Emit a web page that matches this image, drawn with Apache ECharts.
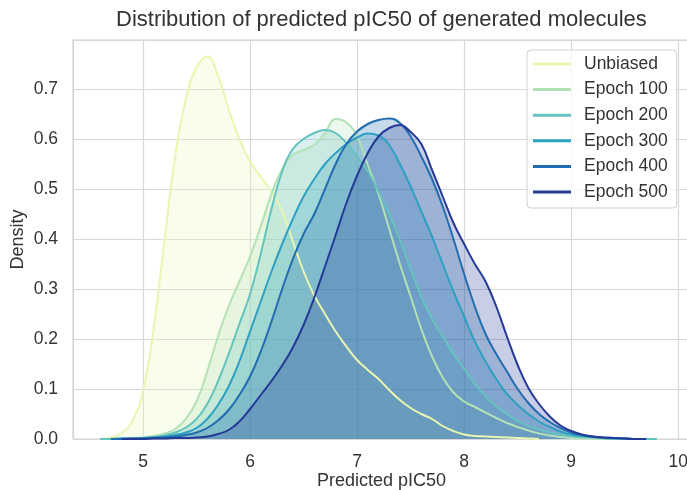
<!DOCTYPE html>
<html>
<head>
<meta charset="utf-8">
<script src="https://cdn.jsdelivr.net/npm/echarts@6/dist/echarts.min.js"></script>
<style>
  html, body { margin: 0; padding: 0; background: #ffffff; }
  #chart { width: 687px; height: 490px; }
</style>
</head>
<body>
<div id="chart"></div>
<script>
// KDE curves of predicted pIC50, sampled every 0.1 from 4.6 to 9.9 (null = outside the curve's support)
const pic50Grid = [];
for (let i = 0; i <= 53; i++) pic50Grid.push(+(4.6 + i * 0.1).toFixed(1));

const seriesNames = ['Unbiased', 'Epoch 100', 'Epoch 200', 'Epoch 300', 'Epoch 400', 'Epoch 500'];
const seriesColors = ['#e8f6b1', '#b2e1b6', '#64c3bf', '#2ca1c2', '#216daf', '#253a97'];

const densityUnbiased = [
  0.0, 0.003, 0.012, 0.036, 0.095, 0.222, 0.395, 0.565, 0.68, 0.743,
  0.765, 0.727, 0.66, 0.60, 0.555, 0.525, 0.495, 0.455, 0.395, 0.335,
  0.287, 0.25, 0.215, 0.185, 0.158, 0.138, 0.12, 0.098, 0.078, 0.062,
  0.05, 0.04, 0.026, 0.016, 0.009, 0.006, 0.005, 0.004, 0.003, 0.002,
  0.001, 0.0, null, null, null, null, null, null, null, null,
  null, null, null, null
];
const densityEpoch100 = [
  null, 0.0, 0.001, 0.002, 0.003, 0.006, 0.011, 0.02, 0.04, 0.075,
  0.135, 0.205, 0.265, 0.315, 0.365, 0.425, 0.49, 0.54, 0.568, 0.578,
  0.588, 0.612, 0.640, 0.633, 0.605, 0.548, 0.49, 0.42, 0.35, 0.285,
  0.22, 0.165, 0.123, 0.093, 0.075, 0.064, 0.053, 0.042, 0.032, 0.024,
  0.017, 0.011, 0.007, 0.004, 0.002, 0.001, 0.001, 0.0, 0.0, 0.0,
  null, null, null, null
];
const densityEpoch200 = [
  0.0, 0.0, 0.001, 0.001, 0.002, 0.004, 0.007, 0.013, 0.023, 0.04,
  0.07, 0.115, 0.17, 0.23, 0.29, 0.37, 0.46, 0.535, 0.58, 0.60,
  0.612, 0.618, 0.612, 0.592, 0.565, 0.535, 0.495, 0.45, 0.398, 0.34,
  0.285, 0.24, 0.205, 0.17, 0.14, 0.11, 0.085, 0.065, 0.05, 0.036,
  0.026, 0.019, 0.013, 0.009, 0.006, 0.004, 0.003, 0.002, 0.001, 0.001,
  0.0, 0.0, 0.0, null
];
const densityEpoch300 = [
  null, 0.0, 0.001, 0.001, 0.002, 0.003, 0.005, 0.008, 0.013, 0.022,
  0.04, 0.068, 0.105, 0.155, 0.215, 0.275, 0.335, 0.39, 0.44, 0.485,
  0.52, 0.55, 0.572, 0.59, 0.603, 0.611, 0.607, 0.588, 0.55, 0.505,
  0.455, 0.405, 0.35, 0.295, 0.245, 0.195, 0.155, 0.12, 0.09, 0.068,
  0.05, 0.035, 0.024, 0.015, 0.009, 0.006, 0.004, 0.002, 0.001, 0.001,
  0.0, 0.0, null, null
];
const densityEpoch400 = [
  null, 0.0, 0.0, 0.001, 0.001, 0.002, 0.003, 0.005, 0.008, 0.013,
  0.022, 0.037, 0.058, 0.088, 0.125, 0.175, 0.235, 0.30, 0.36, 0.41,
  0.45, 0.50, 0.55, 0.59, 0.615, 0.63, 0.638, 0.641, 0.632, 0.605,
  0.565, 0.52, 0.465, 0.40, 0.33, 0.265, 0.21, 0.17, 0.135, 0.10,
  0.072, 0.05, 0.034, 0.022, 0.013, 0.008, 0.005, 0.003, 0.002, 0.001,
  0.0, 0.0, null, null
];
const densityEpoch500 = [
  null, null, 0.0, 0.0, 0.0, 0.001, 0.001, 0.002, 0.002, 0.003,
  0.005, 0.01, 0.018, 0.035, 0.06, 0.088, 0.116, 0.147, 0.183, 0.228,
  0.283, 0.345, 0.408, 0.472, 0.527, 0.572, 0.605, 0.622, 0.628, 0.614,
  0.59, 0.538, 0.485, 0.432, 0.39, 0.35, 0.315, 0.265, 0.205, 0.148,
  0.102, 0.07, 0.045, 0.027, 0.016, 0.009, 0.005, 0.003, 0.002, 0.001,
  0.0, 0.0, null, null
];

const densities = [densityUnbiased, densityEpoch100, densityEpoch200,
                   densityEpoch300, densityEpoch400, densityEpoch500];

const FONT = '"Liberation Sans", Arial, sans-serif';
const TEXT = '#333333';
const GRIDLINE = '#d8d8d8';

const chart = echarts.init(document.getElementById('chart'), null, { renderer: 'canvas' });

const series = seriesNames.map((name, k) => ({
  name,
  type: 'line',
  data: pic50Grid.map((x, i) => [x, densities[k][i]]),
  smooth: 0.45,
  showSymbol: false,
  symbol: 'none',
  connectNulls: false,
  color: seriesColors[k],
  itemStyle: { color: seriesColors[k] },
  lineStyle: { color: seriesColors[k], width: 2 },
  areaStyle: { color: seriesColors[k], opacity: 0.25 },
  emphasis: { disabled: true },
  animation: false
}));

chart.setOption({
  animation: false,
  backgroundColor: '#ffffff',
  title: {
    text: 'Distribution of predicted pIC50 of generated molecules',
    left: 116,
    top: 9,
    padding: 0,
    textStyle: { fontFamily: FONT, fontSize: 22, fontWeight: 'normal', color: TEXT }
  },
  grid: {
    left: 73, top: 40, bottom: 51, right: -3,
    show: true, borderColor: '#d0d0d0', borderWidth: 1.2,
    outerBoundsMode: 'none', containLabel: false
  },
  legend: {
    data: seriesNames,
    orient: 'vertical',
    left: 527,
    top: 50,
    padding: [4, 9, 6, 6],
    itemGap: 5.6,
    itemWidth: 38,
    itemHeight: 3,
    icon: 'rect',
    backgroundColor: 'rgba(255,255,255,0.8)',
    borderColor: '#d0d0d0',
    borderWidth: 1,
    borderRadius: 4,
    textStyle: { fontFamily: FONT, fontSize: 17.5, color: TEXT, lineHeight: 20, padding: [0, 0, 0, 8] },
    selectedMode: false
  },
  xAxis: {
    type: 'value',
    min: 4.346,
    max: 10.11,
    splitNumber: 5,
    name: 'Predicted pIC50',
    nameLocation: 'middle',
    nameGap: 33,
    nameMoveOverlap: false,
    nameTextStyle: { fontFamily: FONT, fontSize: 18, color: TEXT },
    axisLine: { show: false },
    axisTick: { show: false },
    axisLabel: {
      fontFamily: FONT, fontSize: 17.5, color: TEXT, margin: 14,
      showMinLabel: false, showMaxLabel: false,
      formatter: v => String(Math.round(v))
    },
    splitLine: { show: true, lineStyle: { color: GRIDLINE, width: 1.2 } }
  },
  yAxis: {
    type: 'value',
    min: 0,
    max: 0.798,
    interval: 0.1,
    name: 'Density',
    nameLocation: 'middle',
    nameGap: 46,
    nameMoveOverlap: false,
    nameTextStyle: { fontFamily: FONT, fontSize: 18, color: TEXT },
    axisLine: { show: false },
    axisTick: { show: false },
    axisLabel: {
      fontFamily: FONT, fontSize: 17.5, color: TEXT, margin: 15,
      showMaxLabel: false,
      formatter: v => v.toFixed(1)
    },
    splitLine: { show: true, lineStyle: { color: GRIDLINE, width: 1.2 } }
  },
  series
});
</script>
</body>
</html>
